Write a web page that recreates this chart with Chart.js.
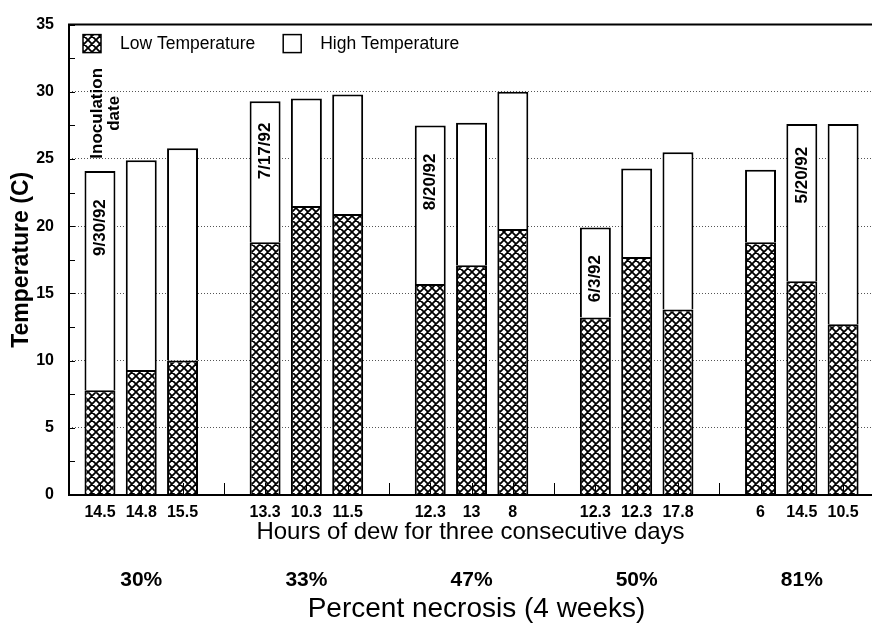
<!DOCTYPE html>
<html>
<head>
<meta charset="utf-8">
<script src="https://cdn.jsdelivr.net/npm/chart.js@4"></script>
<style>
  html, body { margin: 0; padding: 0; background: #fff; }
  canvas { display: block; }
</style>
</head>
<body>
<canvas id="chart" width="874" height="628"></canvas>
<script>
// one slot per bar, '' / null = empty slot between groups
const dewHours = ['14.5', '14.8', '15.5', '', '13.3', '10.3', '11.5', '', '12.3', '13', '8', '', '12.3', '12.3', '17.8', '', '6', '14.5', '10.5'];
const lowTemp  = [7.8, 9.3, 10.0, null, 18.8, 21.5, 20.9, null, 15.7, 17.1, 19.8, null, 13.2, 17.7, 13.8, null, 18.8, 15.9, 12.7];
const highTemp = [24.1, 24.9, 25.8, null, 29.3, 29.5, 29.8, null, 27.5, 27.7, 30.0, null, 19.9, 24.3, 25.5, null, 24.2, 27.6, 27.6];

const necrosis = ['30%', '33%', '47%', '50%', '81%'];
const inoculationDates = ['9/30/92', '7/17/92', '8/20/92', '6/3/92', '5/20/92'];
const inoculationBar = [0, 4, 8, 12, 17];

// where the rotated date text sits (temperature at its centre)
const dateTextAt = [19.9, 25.6, 23.3, 16.1, 23.8];

const FONT = "'Liberation Sans', Arial, Helvetica, sans-serif";

const canvas = document.getElementById('chart');
const ctx = canvas.getContext('2d');

// cross hatch for the low temperature part
function makeHatch() {
    const c = document.createElement('canvas');
    c.width = 8;
    c.height = 8;
    const g = c.getContext('2d');
    g.fillStyle = '#fff';
    g.fillRect(0, 0, 8, 8);
    g.strokeStyle = '#000';
    g.lineWidth = 1.8;
    g.beginPath();
    [-8, 0, 8].forEach(k => {
        g.moveTo(k, 0); g.lineTo(k + 8, 8);
        g.moveTo(k + 8, 0); g.lineTo(k, 8);
    });
    g.stroke();
    return ctx.createPattern(c, 'repeat');
}
const hatch = makeHatch();

const lowData = [];
const highData = [];
lowTemp.forEach((v, i) => {
    if (v == null) return;
    lowData.push({ x: i, y: v });
    highData.push({ x: i, y: +(highTemp[i] - v).toFixed(2) });
});

// axis frame + little inside ticks
const framePlugin = {
    id: 'frame',
    afterDatasetsDraw(chart) {
        const { ctx, chartArea: a, scales: { x, y } } = chart;
        ctx.save();
        ctx.strokeStyle = '#000';
        ctx.lineWidth = 1;
        ctx.beginPath();
        for (let v = 0; v <= 35; v += 2.5) {
            const py = Math.round(y.getPixelForValue(v)) + 0.5;
            ctx.moveTo(a.left, py);
            ctx.lineTo(a.left + 6, py);
        }
        dewHours.forEach((_, i) => {
            const px = Math.round(x.getPixelForValue(i)) + 0.5;
            ctx.moveTo(px, a.bottom);
            ctx.lineTo(px, a.bottom - 12);
        });
        ctx.stroke();

        ctx.lineWidth = 2;
        ctx.beginPath();
        ctx.moveTo(a.right, a.top);
        ctx.lineTo(a.left, a.top);
        ctx.lineTo(a.left, a.bottom);
        ctx.lineTo(a.right, a.bottom);
        ctx.stroke();
        ctx.restore();
    }
};

// legend drawn inside the plot, top left
const legendPlugin = {
    id: 'boxLegend',
    afterDatasetsDraw(chart) {
        const { ctx, chartArea: a } = chart;
        ctx.save();
        ctx.font = '17.5px ' + FONT;
        ctx.textBaseline = 'middle';
        let bx = a.left + 14;
        const by = a.top + 10;
        chart.data.datasets.forEach(ds => {
            ctx.fillStyle = ds.backgroundColor;
            ctx.fillRect(bx, by, 18, 18);
            ctx.strokeStyle = '#000';
            ctx.lineWidth = 1.5;
            ctx.strokeRect(bx, by, 18, 18);
            ctx.fillStyle = '#000';
            ctx.fillText(ds.label, bx + 37, by + 10);
            bx += 37 + ctx.measureText(ds.label).width + 28;
        });
        ctx.restore();
    }
};

// rotated date labels inside the bars
const notesPlugin = {
    id: 'notes',
    afterDatasetsDraw(chart) {
        const { ctx, scales: { x, y } } = chart;
        ctx.save();
        ctx.fillStyle = '#000';
        ctx.textAlign = 'center';
        ctx.textBaseline = 'middle';
        ctx.font = 'bold 17px ' + FONT;
        inoculationDates.forEach((d, i) => {
            ctx.save();
            ctx.translate(x.getPixelForValue(inoculationBar[i]), y.getPixelForValue(dateTextAt[i]));
            ctx.rotate(-Math.PI / 2);
            ctx.fillText(d, 0, 0);
            ctx.restore();
        });
        ctx.translate(x.getPixelForValue(0) + 5, y.getPixelForValue(28.4));
        ctx.rotate(-Math.PI / 2);
        ctx.font = 'bold 17px ' + FONT;
        ctx.fillText('Inoculation', 0, -8);
        ctx.fillText('date', 0, 9);
        ctx.restore();
    }
};

// necrosis row and second axis title under the dew hours
const necrosisPlugin = {
    id: 'necrosis',
    afterDraw(chart) {
        const { ctx, chartArea: a, scales: { x } } = chart;
        ctx.save();
        ctx.fillStyle = '#000';
        ctx.textAlign = 'center';
        ctx.textBaseline = 'middle';
        ctx.font = 'bold 21px ' + FONT;
        necrosis.forEach((p, g) => {
            ctx.fillText(p, x.getPixelForValue(g * 4 + 1), 580);
        });
        ctx.font = '28px ' + FONT;
        ctx.fillText('Percent necrosis (4 weeks)', (a.left + a.right) / 2 + 6, 609);
        ctx.restore();
    }
};

new Chart(ctx, {
    type: 'bar',
    data: {
        datasets: [{
            label: 'Low Temperature',
            data: lowData,
            backgroundColor: hatch,
            borderColor: '#000',
            borderWidth: 2
        }, {
            label: 'High Temperature',
            data: highData,
            backgroundColor: '#fff',
            borderColor: '#000',
            borderWidth: 2
        }]
    },
    options: {
        responsive: false,
        animation: false,
        devicePixelRatio: 1,
        barPercentage: 0.75,
        categoryPercentage: 1,
        layout: { padding: { top: 18, right: 2, bottom: 81, left: 0 } },
        plugins: {
            legend: { display: false },
            tooltip: { enabled: false }
        },
        scales: {
            x: {
                type: 'linear',
                stacked: true,
                offset: false,
                min: -0.75,
                max: 18.7,
                afterBuildTicks: s => { s.ticks = dewHours.map((_, i) => ({ value: i })); },
                afterFit: s => { s.height = 52; },
                grid: { display: false, drawTicks: false, offset: false },
                border: { display: false },
                ticks: {
                    autoSkip: false,
                    maxRotation: 0,
                    padding: 8,
                    color: '#000',
                    font: { family: FONT, size: 16, weight: 'bold' },
                    callback: v => dewHours[v]
                },
                title: {
                    display: true,
                    text: 'Hours of dew for three consecutive days',
                    color: '#000',
                    font: { family: FONT, size: 24 },
                    padding: 0
                }
            },
            y: {
                stacked: true,
                min: 0,
                max: 35,
                afterFit: s => { s.width = 69; },
                grid: {
                    drawTicks: false,
                    lineWidth: 1,
                    color: c => (c.tick && c.tick.value > 0 && c.tick.value < 35) ? '#555' : 'rgba(0,0,0,0)'
                },
                border: { display: false, dash: [1, 2] },
                ticks: {
                    stepSize: 5,
                    padding: 15,
                    color: '#000',
                    font: { family: FONT, size: 16, weight: 'bold' }
                },
                title: {
                    display: true,
                    text: 'Temperature (C)',
                    color: '#000',
                    font: { family: FONT, size: 23, weight: 'bold' },
                    padding: { top: 8 }
                }
            }
        }
    },
    plugins: [framePlugin, legendPlugin, notesPlugin, necrosisPlugin]
});
</script>
</body>
</html>
